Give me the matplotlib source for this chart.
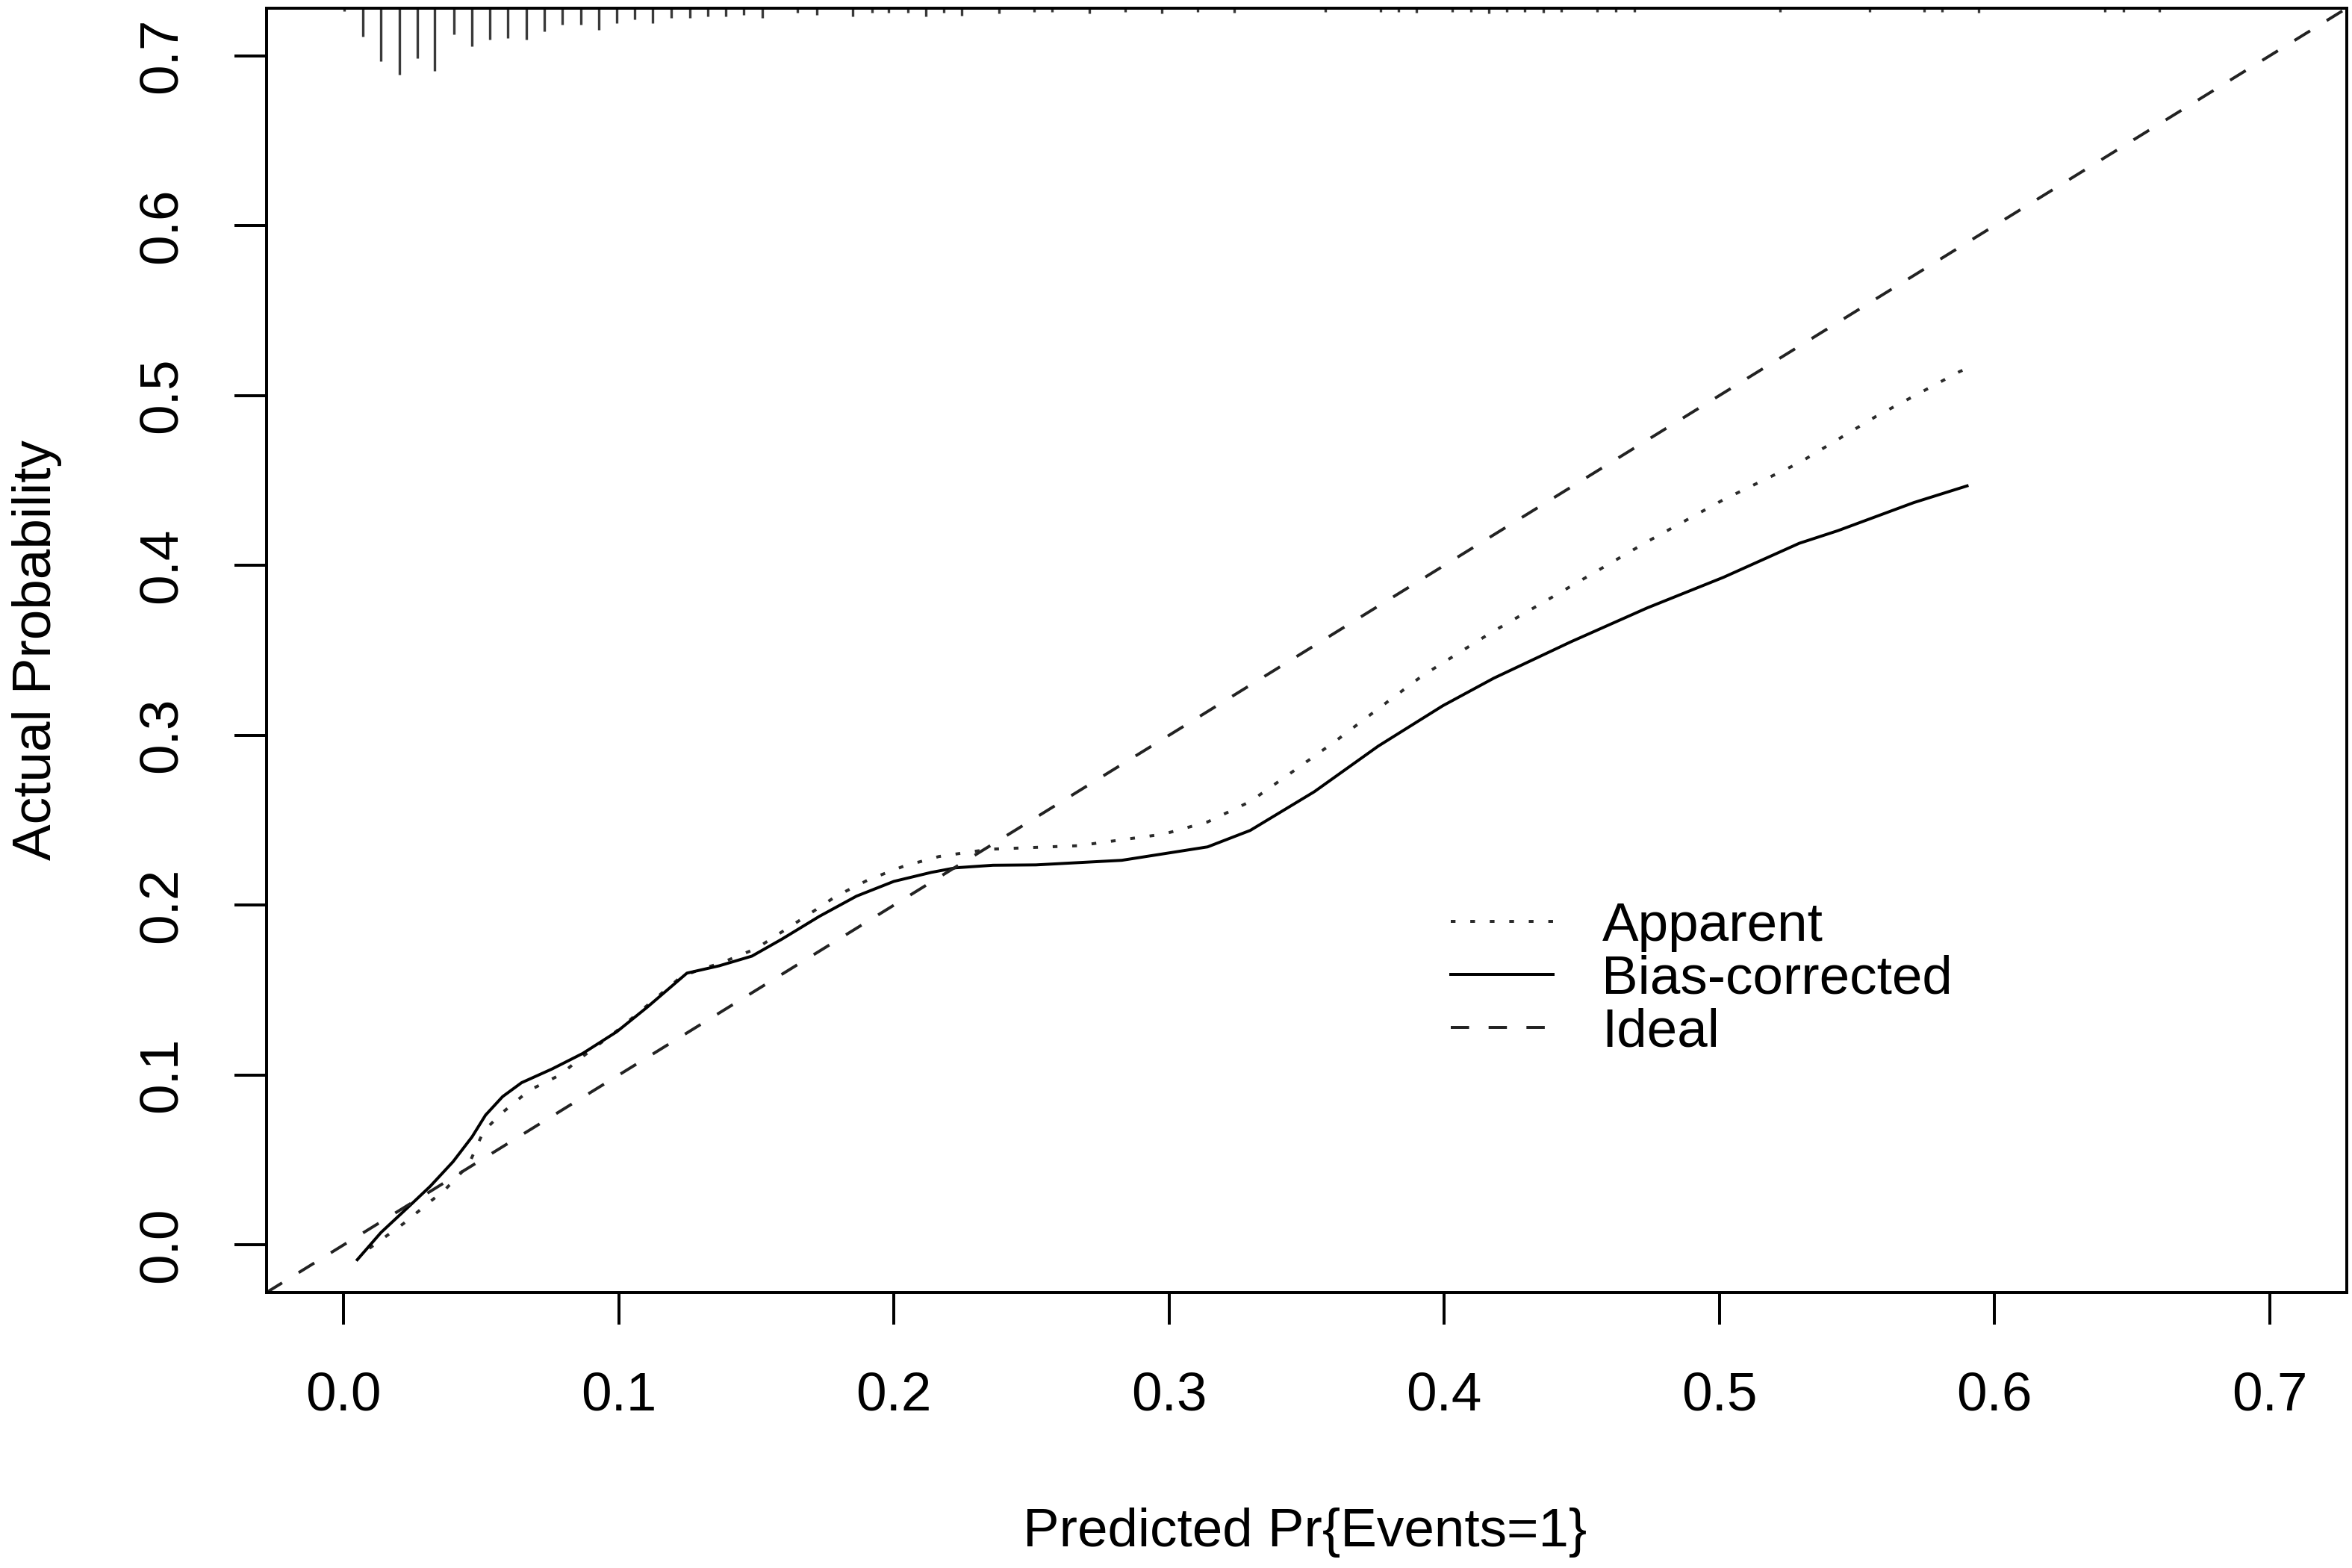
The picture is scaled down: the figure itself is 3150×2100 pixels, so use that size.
import matplotlib
matplotlib.use("Agg")
import matplotlib.pyplot as plt
import matplotlib.transforms as mtransforms
import numpy as np

# calibration curves
pred_bias = [0.005, 0.0136, 0.0232, 0.0315, 0.0398, 0.0467, 0.0516, 0.0578, 0.0647,
             0.0758, 0.0869, 0.0993, 0.1104, 0.1248, 0.1365, 0.1484, 0.1593, 0.1729,
             0.1864, 0.2, 0.2136, 0.2225, 0.236, 0.2516, 0.2828, 0.314, 0.3295,
             0.3528, 0.376, 0.3995, 0.418, 0.446, 0.4738, 0.5015, 0.529, 0.543,
             0.5707, 0.590]
obs_bias = [-0.0087, 0.0073, 0.0218, 0.0345, 0.049, 0.0636, 0.0764, 0.0873, 0.0955,
            0.1036, 0.1127, 0.1255, 0.14, 0.16, 0.1643, 0.170, 0.180, 0.1934,
            0.2053, 0.214, 0.2193, 0.222, 0.2235, 0.2237, 0.2264, 0.2343, 0.244,
            0.2668, 0.2936, 0.3174, 0.3336, 0.355, 0.375, 0.393, 0.413, 0.4204,
            0.437, 0.4468]

pred_app = [0.0094, 0.0219, 0.0315, 0.037, 0.0454, 0.0509, 0.0578, 0.0675, 0.0786,
            0.087, 0.0993, 0.1104, 0.1228, 0.131, 0.1365, 0.150, 0.168, 0.179,
            0.1908, 0.2035, 0.2163, 0.2288, 0.236, 0.267, 0.298, 0.314, 0.3295,
            0.345, 0.3606, 0.376, 0.392, 0.4166, 0.446, 0.4738, 0.5015, 0.529,
            0.5569, 0.5872, 0.590]
obs_app = [-0.002, 0.0127, 0.0255, 0.0327, 0.047, 0.067, 0.078, 0.091, 0.1,
           0.111, 0.126, 0.141, 0.158, 0.163, 0.1655, 0.1745, 0.1934, 0.2053,
           0.215, 0.2229, 0.2286, 0.2316, 0.233, 0.235, 0.2418, 0.249, 0.261,
           0.2787, 0.2967, 0.3156, 0.335, 0.36, 0.3877, 0.414, 0.4387, 0.4604,
           0.4877, 0.514, 0.516]

# distribution of predicted values (rug at top), relative counts
rug_x = [0.0003, 0.0069, 0.0136, 0.0202, 0.0268, 0.0332, 0.0401, 0.0467, 0.0532,
         0.0597, 0.0664, 0.073, 0.0795, 0.0862, 0.0927, 0.0993, 0.1058, 0.1124,
         0.119, 0.1258, 0.1324, 0.139, 0.1455, 0.1522, 0.165, 0.172, 0.185,
         0.192, 0.198, 0.205, 0.2117, 0.218, 0.2247, 0.2382, 0.251, 0.2575,
         0.271, 0.2841, 0.2974, 0.3105, 0.3237, 0.3567, 0.3768, 0.3834, 0.39,
         0.403, 0.4097, 0.4163, 0.4228, 0.4293, 0.436, 0.4426, 0.4556, 0.4623,
         0.469, 0.5219, 0.5547, 0.5745, 0.581, 0.5942, 0.640, 0.6468, 0.660]
rug_n = [1, 8.5, 16, 20, 15, 19, 8, 11.5, 9.5,
         9, 9.5, 7, 5, 5, 6.5, 4.5, 3.5, 4.5,
         3, 3, 2.5, 2.5, 2, 3, 1.3, 2, 2.5,
         1.3, 1.3, 1.3, 2.5, 1.3, 2.2, 1.6, 1.2, 1.2,
         1.6, 1.2, 1.6, 1.2, 1.3, 1.2, 1.2, 1.2, 1.3,
         1.2, 1.2, 1.6, 1.2, 1.2, 1.3, 1.2, 1.2, 1.2,
         1.2, 1.2, 1.2, 1.2, 1.2, 1.3, 1.2, 1.2, 1.2]

ticks = [0.0, 0.1, 0.2, 0.3, 0.4, 0.5, 0.6, 0.7]
tick_labels = ["0.0", "0.1", "0.2", "0.3", "0.4", "0.5", "0.6", "0.7"]

plt.rcParams["font.family"] = ["Liberation Sans", "DejaVu Sans"]
FS = 17.5
LW = 0.95

fig = plt.figure(figsize=(10.5, 7), dpi=300)
ax = fig.add_axes([0.1133, 0.1757, 0.9978 - 0.1133, 0.9948 - 0.1757])
ax.set_xlim(-0.028, 0.728)
ax.set_ylim(-0.028, 0.728)

# top rug: tick length proportional to count
trans = mtransforms.blended_transform_factory(ax.transData, ax.transAxes)
rn = np.asarray(rug_n, dtype=float)
ax.vlines(rug_x, 1 - 0.0517 * rn / rn.max(), 1, transform=trans,
          color="#3a3a3a", lw=0.8, zorder=2)

ax.plot(pred_app, obs_app, color="#2a2a2a", lw=LW, ls=(0, (1.6, 5.0)),
        label="Apparent")
ax.plot(pred_bias, obs_bias, color="black", lw=LW, ls="-",
        label="Bias-corrected")
ax.axline((0, 0), slope=1, color="#222222", lw=LW, ls=(0, (6.2, 6.6)),
          label="Ideal")

ax.legend(loc="center left", bbox_to_anchor=(0.4025, 0.1562),
          bbox_transform=ax.transData, frameon=False, fontsize=FS,
          handlelength=1.87, handletextpad=0.9, labelspacing=0.05,
          borderpad=0, borderaxespad=0)

for sp in ax.spines.values():
    sp.set_linewidth(LW)
    sp.set_color("black")

ax.set_xticks(ticks)
ax.set_xticklabels(tick_labels)
ax.set_yticks(ticks)
ax.set_yticklabels(tick_labels, rotation=90, va="center")
ax.tick_params(axis="both", length=10.4, width=LW, pad=15, labelsize=FS,
               direction="out", colors="black")

fig.text(0.5549, 1 - 2052 / 2100, "Predicted Pr{Events=1}",
         ha="center", va="center", fontsize=FS)
fig.text(50 / 3150, 1 - 870 / 2100, "Actual Probability", rotation=90,
         ha="center", va="center", fontsize=FS)

fig.savefig("out.png", dpi=300, facecolor="white")
